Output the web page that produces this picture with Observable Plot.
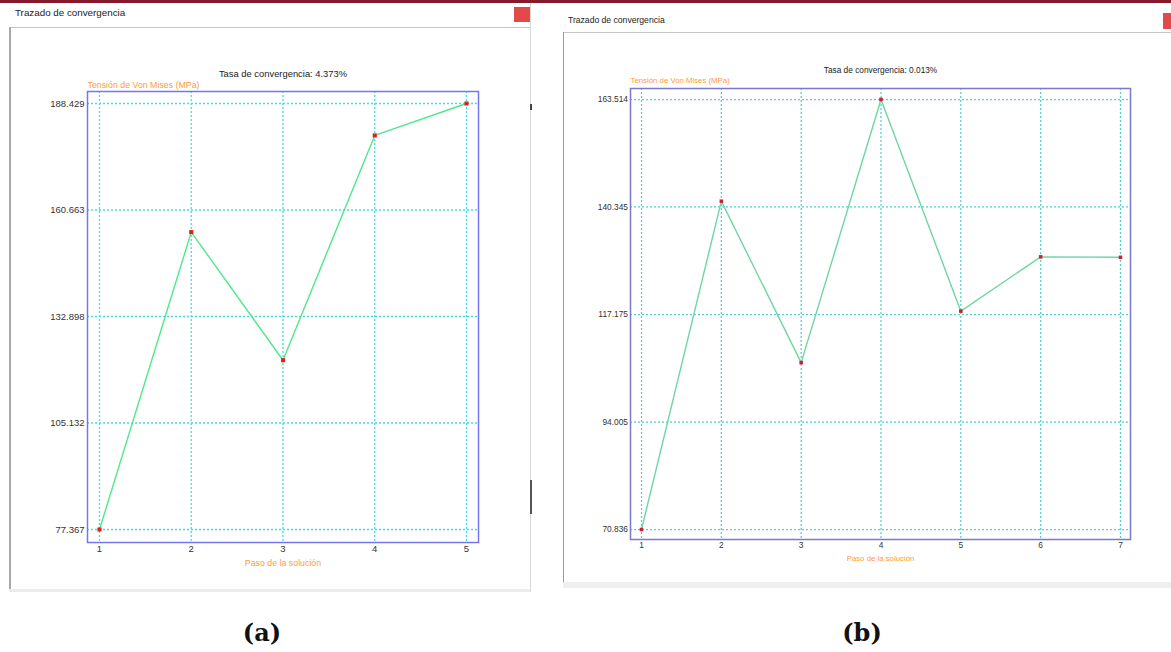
<!DOCTYPE html>
<html>
<head>
<meta charset="utf-8">
<script src="https://cdn.jsdelivr.net/npm/d3@7"></script>
<script src="https://cdn.jsdelivr.net/npm/@observablehq/plot@0.6"></script>
<style>
  html, body { margin: 0; padding: 0; background: #fff; }
  #root { position: relative; width: 1171px; height: 652px; overflow: hidden; background: #fff;
          font-family: "Liberation Sans", Arial, sans-serif; }
  .abs { position: absolute; }
  .wtitle { position: absolute; color: #222; white-space: nowrap; line-height: 1; }
  .cap { position: absolute; font-family: "DejaVu Serif", serif; font-weight: bold; font-size: 24px;
         color: #111; transform: translate(-50%, -50%); white-space: nowrap; line-height: 1; }
</style>
</head>
<body>
<div id="root"></div>
<script>
// ---------- Data ----------
const windowTitle = "Trazado de convergencia";
const yLabel = "Tensión de Von Mises (MPa)";
const xLabel = "Paso de la solución";

// (a)
const stepsA = [1, 2, 3, 4, 5];
const stressA = [77.367, 154.9, 121.5, 180.1, 188.429];
const yTicksA = [77.367, 105.132, 132.898, 160.663, 188.429];
const rateA = "Tasa de convergencia: 4.373%";

// (b)
const stepsB = [1, 2, 3, 4, 5, 6, 7];
const stressB = [70.836, 141.6, 106.8, 163.514, 117.9, 129.6, 129.5];
const yTicksB = [70.836, 94.005, 117.175, 140.345, 163.514];
const rateB = "Tasa de convergencia: 0.013%";

const captions = ["(a)", "(b)"];

// ---------- Chrome ----------
const root = document.getElementById("root");
function box(l, t, w, h, bg, extra = "") {
  const d = document.createElement("div");
  d.className = "abs";
  d.style.cssText = `left:${l}px;top:${t}px;width:${w}px;height:${h}px;background:${bg};${extra}`;
  root.appendChild(d);
  return d;
}
function txt(cls, s, l, t, size) {
  const d = document.createElement("div");
  d.className = cls;
  d.textContent = s;
  d.style.left = l + "px";
  d.style.top = t + "px";
  if (size) d.style.fontSize = size + "px";
  root.appendChild(d);
  return d;
}

// top maroon band
box(0, 0, 1171, 3, "#861a2c");

// window (a)
box(530, 3, 1, 589, "#d8d8d8");
box(9, 27, 521, 1, "#c4c4c4");
box(9, 27, 2, 564, "#a8a8a8");
box(9, 589, 521, 3, "#ececec");
box(514, 7, 16, 15, "#e24a4a");
box(530, 104, 2, 6, "#444");
box(530, 480, 2, 34, "#555");
txt("wtitle", windowTitle, 15, 8, 9.8);

// window (b)
box(563, 32, 608, 1, "#c4c4c4");
box(563, 32, 1, 550, "#999");
box(563, 582, 608, 6, "#efefef");
box(1163, 13, 8, 16, "#e24a4a");
txt("wtitle", windowTitle, 568, 15.5, 8.6);

// captions
txt("cap", captions[0], 262, 633);
txt("cap", captions[1], 862, 633);

// ---------- Plots ----------
function makePlot(cfg) {
  const data = cfg.steps.map((s, i) => ({ step: s, stress: cfg.stress[i] }));
  const svg = Plot.plot({
    width: cfg.width,
    height: cfg.height,
    marginLeft: cfg.mL, marginRight: cfg.mR, marginTop: cfg.mT, marginBottom: cfg.mB,
    style: { fontFamily: '"Liberation Sans", Arial, sans-serif', fontSize: cfg.fs + "px", color: "#333", background: "transparent", overflow: "visible" },
    x: { domain: [cfg.steps[0], cfg.steps[cfg.steps.length - 1]], insetLeft: cfg.iL, insetRight: cfg.iR },
    y: { domain: [cfg.yTicks[0], cfg.yTicks[cfg.yTicks.length - 1]], insetTop: cfg.iT, insetBottom: cfg.iB },
    marks: [
      Plot.gridX(cfg.steps, { stroke: cfg.grid, strokeOpacity: 1, strokeWidth: cfg.gw, strokeDasharray: "2,2" }),
      Plot.gridY(cfg.yTicks, { stroke: cfg.grid, strokeOpacity: 1, strokeWidth: cfg.gw, strokeDasharray: "2,2" }),
      Plot.frame({ stroke: cfg.frame, strokeWidth: 1.5 }),
      Plot.line(data, { x: "step", y: "stress", stroke: cfg.line, strokeWidth: 1.4 }),
      Plot.dot(data, { x: "step", y: "stress", symbol: "square", r: cfg.r, fill: cfg.dot, stroke: "none" }),
      Plot.axisX(cfg.steps, { tickSize: 0, tickPadding: cfg.xPad, tickFormat: d => String(d), label: null, fill: "#333", fontSize: cfg.fs }),
      Plot.axisY(cfg.yTicks, { tickSize: 0, tickPadding: cfg.yPad, tickFormat: d => d.toFixed(3), label: null, fill: "#333", fontSize: cfg.fs }),
      Plot.text([cfg.title], { frameAnchor: "top", lineAnchor: "middle", dy: cfg.titleDy, fontSize: cfg.titleFs, fill: "#222" }),
      Plot.text([yLabel], { frameAnchor: "top-left", lineAnchor: "middle", textAnchor: "start", dy: cfg.yLabDy, fontSize: cfg.labFs, fill: "#ff9a3a" }),
      Plot.text([xLabel], { frameAnchor: "bottom", lineAnchor: "middle", dy: cfg.xLabDy, fontSize: cfg.labFs, fill: "#ff9a3a" })
    ]
  });
  const wrap = document.createElement("div");
  wrap.className = "abs";
  wrap.style.left = cfg.left + "px";
  wrap.style.top = cfg.top + "px";
  wrap.appendChild(svg);
  root.appendChild(wrap);
}

makePlot({
  steps: stepsA, stress: stressA, yTicks: yTicksA, title: rateA,
  left: 0, top: 0, width: 531, height: 592,
  mL: 87, mR: 53, mT: 91, mB: 50,
  iL: 12, iR: 12, iT: 12, iB: 13,
  fs: 9.5, titleFs: 9.4, labFs: 8.8, titleDy: -18, yLabDy: -6.5, xLabDy: 21,
  xPad: 3, yPad: 3, r: 2.3, gw: 1.3,
  grid: "#3edfec", frame: "#7474f4", line: "#4de98a", dot: "#ea1a1a"
});

makePlot({
  steps: stepsB, stress: stressB, yTicks: yTicksB, title: rateB,
  left: 563, top: 0, width: 608, height: 590,
  mL: 67, mR: 41, mT: 88, mB: 51,
  iL: 11, iR: 10, iT: 11, iB: 10,
  fs: 8.4, titleFs: 8.3, labFs: 7.8, titleDy: -18, yLabDy: -8, xLabDy: 19,
  xPad: 3, yPad: 2.5, r: 2, gw: 1.25,
  grid: "#4fd0da", frame: "#7a7acc", line: "#6fd6a0", dot: "#cc2030"
});
</script>
</body>
</html>
